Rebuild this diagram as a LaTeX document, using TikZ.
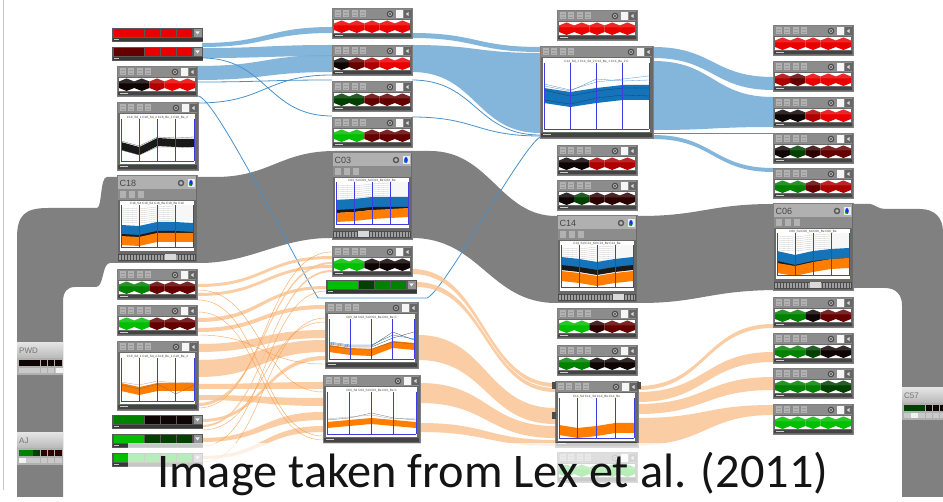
\documentclass[tikz,border=0pt]{standalone}
\usepackage{fontspec}
\setmainfont{Liberation Sans}
\newfontfamily\capfont{Carlito}
\definecolor{bandgray}{RGB}{128,128,128}
\definecolor{framegray}{RGB}{105,105,105}
\definecolor{toolgray}{RGB}{140,140,140}
\definecolor{icongray}{RGB}{178,178,178}
\definecolor{stripdark}{RGB}{68,68,68}
\definecolor{cR}{RGB}{235,0,0}
\definecolor{cMR}{RGB}{175,0,0}
\definecolor{cDR}{RGB}{100,0,0}
\definecolor{cDK}{RGB}{45,0,0}
\definecolor{cK}{RGB}{15,5,5}
\definecolor{cDG}{RGB}{0,65,0}
\definecolor{cMG}{RGB}{0,130,0}
\definecolor{cG}{RGB}{0,190,0}
\definecolor{flowblue}{RGB}{115,172,215}
\definecolor{lineblue}{RGB}{75,145,200}
\definecolor{floworange}{RGB}{250,192,140}
\definecolor{lineorange}{RGB}{245,155,70}
\definecolor{dataBlue}{RGB}{20,115,185}
\definecolor{dataOrange}{RGB}{255,125,0}
\definecolor{axisblue}{RGB}{60,60,225}
\tikzset{
 bflow/.style={fill=flowblue, fill opacity=0.88},
 oflow/.style={fill=floworange, fill opacity=0.78},
 bline/.style={draw=lineblue, line width=0.8},
 oline/.style={draw=lineorange, line width=0.45, draw opacity=0.8},
 hdr/.style={font=\fontsize{3.1}{3.1}\selectfont, inner sep=0, text=black!75},
 frameedge/.style={draw=black!50, line width=0.5},
}
% flow band: x1, ya1, yb1, x2, ya2, yb2
\newcommand{\flow}[7][bflow]{%
 \pgfmathsetmacro\xm{(#2+#5)/2}%
 \fill[#1] (#2,#3) .. controls (\xm,#3) and (\xm,#6) .. (#5,#6) -- (#5,#7) .. controls (\xm,#7) and (\xm,#4) .. (#2,#4) -- cycle;}
\newcommand{\fline}[5][bline]{%
 \pgfmathsetmacro\xm{(#2+#4)/2}%
 \draw[#1] (#2,#3) .. controls (\xm,#3) and (\xm,#5) .. (#4,#5);}
\newcommand{\band}[7]{\fill[#1] (4,#2) -- (4+\dx,#3) -- (4+2*\dx,#4) -- (4+3*\dx,#5) -- (4+4*\dx,#6) -- (4+4*\dx,#6+#7) -- (4+3*\dx,#5+#7) -- (4+2*\dx,#4+#7) -- (4+\dx,#3+#7) -- (4,#2+#7) -- cycle;}
\newcommand{\strand}[6]{\draw[#1] (4,#2) -- (4+\dx,#3) -- (4+2*\dx,#4) -- (4+3*\dx,#5) -- (4+4*\dx,#6);}
\newcommand{\hexcell}[2]{%
 \fill[#2] (#1,15.5) -- ++(7.6,-3) -- ++(7.6,3) -- ++(0,6.5) -- ++(-7.6,3) -- ++(-7.6,-3) -- cycle;
 \fill[white,fill opacity=0.15] (#1,15.5) -- ++(7.6,-3) -- ++(7.6,3) -- ++(0,2) -- ++(-15.2,0) -- cycle;}
\newcommand{\toolicons}[1]{%
 \foreach \ii in {0,1,2,3} {\fill[icongray] (2.5+\ii*8.5,2.5) rectangle (8.5+\ii*8.5,9.5);
   \draw[black!40, line width=0.3] (3.5+\ii*8.5,4.5) -- (7.5+\ii*8.5,4.5) (3.5+\ii*8.5,7.5) -- (7.5+\ii*8.5,7.5);}
 \fill[black!70] (#1-22,6) circle (3.3); \fill[gray!60] (#1-22,6) circle (2); \fill[black!70] (#1-22,6) circle (1.1);
 \fill[white!92!gray] (#1-16.5,2.3) rectangle (#1-9.5,9.7);
 \fill[black!60] (#1-8,2.3) rectangle (#1-1.5,9.7);
 \fill[white!70!gray] (#1-6.2,6) -- (#1-3.5,4) -- (#1-3.5,8) -- cycle;}
\newcommand{\hexbox}[7]{%
 \begin{scope}[shift={(#1,#2)}]
 \fill[framegray] (0,0) rectangle (80,30);
 \fill[toolgray] (1,1) rectangle (79,11);
 \toolicons{80}
 \fill[white] (2,12.5) rectangle (78,25);
 \hexcell{2}{#3}\hexcell{17.2}{#4}\hexcell{32.4}{#5}\hexcell{47.6}{#6}\hexcell{62.8}{#7}
 \fill[stripdark] (1,26) rectangle (79,29.3);
 \fill[gray!40] (3,27.2) rectangle (11,28.2);
 \draw[frameedge] (0,0) rectangle (80,30);
 \end{scope}}
\newcommand{\barbox}[7]{%
 \begin{scope}[shift={(#1,#2)}]
 \fill[black!65] (0,0) rectangle (91,14);
 \foreach \cc [count=\ii from 0] in {#3,#4,#5,#6,#7} {\fill[\cc] (1.5+\ii*15.8,1.5) rectangle (16.5+\ii*15.8,8.8);}
 \fill[black!42] (81.5,1.5) rectangle (89.5,9);
 \fill[white!85!gray] (83.3,3.5) -- (87.7,3.5) -- (85.5,6.5) -- cycle;
 \fill[black!78] (0.5,10) rectangle (90.5,13.5);
 \fill[gray!45] (2,11.2) rectangle (7,12.3);
 \end{scope}}
\newcommand{\plotbox}[6]{%
 \begin{scope}[shift={(#1,#2)}]
 \pgfmathsetmacro\pw{#3}\pgfmathsetmacro\ph{#4}%
 \pgfmathsetmacro\dx{(\pw-8)/4}%
 \fill[framegray] (0,0) rectangle (\pw,\ph);
 \fill[toolgray] (1,1) rectangle (\pw-1,11);
 \toolicons{\pw}
 \fill[white] (3,12) rectangle (\pw-3,\ph-6);
 \node[hdr] (h#1x#2) at (\pw/2,15.2) {#5};
 #6
 \foreach \ii in {0,...,4} {\draw[axisblue, line width=0.6] (4+\ii*\dx,17) -- (4+\ii*\dx,\ph-8.5);}
 \draw[axisblue, line width=1] (4,\ph-8.5) -- (\pw-4,\ph-8.5);
 \fill[stripdark] (1,\ph-5) rectangle (\pw-1,\ph-1);
 \fill[gray!40] (3,\ph-3.6) rectangle (11,\ph-2.6);
 \draw[frameedge] (0,0) rectangle (\pw,\ph);
 \end{scope}}
\newcommand{\clusterbox}[6]{%
 \begin{scope}[shift={(#1,#2)}]
 \def\dx{18}%
 \fill[framegray] (0,0) rectangle (80,87);
 \fill[gray!62] (1,1) rectangle (79,14);
 \fill[toolgray] (1,14) rectangle (79,25);
 \node[anchor=west, font=\fontsize{9}{9}\selectfont, text=black!72, inner sep=0] (t#3) at (2.5,8) {#3};
 \fill[black!65] (64,8) circle (3.3); \fill[gray!55] (64,8) circle (1.9);
 \fill[white!85!gray] (70.5,4) rectangle (77.5,12);
 \fill[blue!80!cyan] (74,8) ellipse (1.8 and 3); \fill[green!60!black] (73,9.5) ellipse (1 and 1.5);
 \foreach \ii in {0,1,2} {\fill[icongray] (3+\ii*9,16.5) rectangle (9+\ii*9,23);}
 \fill[white] (3,26) rectangle (77,76);
 \node[hdr] (h#3) at (40,28.5) {#4};
 \foreach \oo in {0,2,...,14} {\strand{gray!45,line width=0.3}{33+\oo}{34+\oo}{32+\oo}{31+\oo}{31+\oo}}
 #5
 \foreach \ii in {0,...,4} {\draw[axisblue, line width=0.6] (4+\ii*18,30.5) -- (4+\ii*18,73);}
 \draw[axisblue, line width=1] (4,73) -- (76,73);
 \fill[black!70] (1,79) rectangle (79,86);
 \foreach \tk in {2,3.5,...,78} {\draw[gray!75, line width=0.25] (\tk,80) -- (\tk,85);}
 \fill[gray!30] (#6,79.5) rectangle (#6+11,85.5);
 \draw[frameedge] (0,0) rectangle (80,87);
 \end{scope}}
\newcommand{\smallwidget}[9]{%
 \begin{scope}[shift={(#1,#2)}]
 \shade[top color=gray!22, bottom color=gray!55] (0,0) rectangle (46,15);
 \node[anchor=west, font=\fontsize{8}{8}\selectfont, text=black!55, inner sep=0] (w#3) at (2,8) {#3};
 \fill[gray!62] (0,15) rectangle (46,32);
 \foreach \cc [count=\ii from 0] in {#4,#5,#6,#7,#8,#9} {\fill[\cc] (2+\ii*7.2,17) rectangle (8.5+\ii*7.2,23.5); \fill[gray!42] (2+\ii*7.2,25) rectangle (8.5+\ii*7.2,30);}
 \end{scope}}
\begin{document}
\begin{tikzpicture}[x=1pt,y=-1pt]
\useasboundingbox (0,0) rectangle (943,502);
\fill[white] (0,0) rectangle (943,502);
\draw[gray!45, line width=0.8] (3.5,0) -- (3.5,490);
% ---------- gray cluster band ----------
\fill[bandgray] (17,497) -- (17,238) .. controls (17,215) and (25,208) .. (48,208) -- (97,208)
 .. controls (102,208) and (100,177) .. (107,177) -- (215,177) .. controls (270,177) and (280,151) .. (335,151)
 -- (430,151) .. controls (490,151) and (500,216) .. (556,216) -- (640,216) .. controls (700,216) and (710,204) .. (773,204)
 -- (870,204) .. controls (874,204) and (878,209) .. (885,209) -- (920,209) .. controls (935,209) and (943,218) .. (943,232)
 -- (943,497) -- (902,497) -- (902,305) .. controls (902,295) and (896,288) .. (885,288) -- (855,288) -- (780,290)
 .. controls (710,290) and (700,303) .. (640,303) -- (556,303) .. controls (490,303) and (480,238) .. (412,238)
 -- (330,238) .. controls (280,238) and (250,263) .. (200,263) -- (110,263) .. controls (102,263) and (104,287) .. (96,287)
 -- (75,287) .. controls (67,287) and (63,292) .. (63,302) -- (63,497) -- cycle;
% ---------- blue flows ----------
\flow{202}{43}{47}{332}{27}{33}
\flow{202}{48}{58}{332}{45}{56}
\flow{198}{66}{80}{332}{55}{72}
\flow{412}{33}{38}{540}{47}{52}
\flow{412}{45}{72}{540}{53}{133}
\flow{653}{47}{58}{773}{77}{90}
\flow{653}{61}{130}{773}{97}{127}
\flow{653}{135}{139}{773}{168}{172}
\fline{198}{82}{332}{80}
\fline{198}{103}{332}{75}
\fline{202}{58}{332}{116}
\fline{412}{80}{540}{135}
\fline{412}{117}{540}{136}
\fline{653}{133}{773}{133}
\draw[bline] (198,96) .. controls (215,96) and (300,270) .. (318,298) -- (427,298) .. controls (445,290) and (520,150) .. (540,137);
% ---------- orange flows ----------
\flow[oflow]{198}{284}{287}{332}{256}{259}
\flow[oflow]{198}{293}{296}{332}{265}{268}
\flow[oflow]{198}{318}{322}{326}{286}{289}
\flow[oflow]{198}{328}{332}{325}{305}{309}
\flow[oflow]{198}{344}{352}{325}{330}{338}
\flow[oflow]{198}{360}{377}{325}{340}{352}
\flow[oflow]{198}{384}{389}{323}{382}{389}
\flow[oflow]{198}{395}{400}{323}{398}{406}
\flow[oflow]{198}{403}{406}{332}{262}{264}
\flow[oflow]{202}{419}{422}{325}{356}{360}
\flow[oflow]{202}{425}{427}{332}{270}{272}
\flow[oflow]{202}{438}{442}{323}{412}{420}
\flow[oflow]{202}{456}{459}{323}{426}{432}
\fline[oline]{202}{446}{326}{291}
\fline[oline]{202}{462}{325}{318}
\fline[oline]{198}{300}{323}{436}
\fline[oline]{198}{335}{325}{364}
\fline[oline]{198}{408}{332}{252}
\fline[oline]{202}{430}{325}{322}
\fline[oline]{198}{290}{323}{392}
\fline[oline]{198}{312}{323}{440}
\flow[oflow]{412}{269}{274}{555}{383}{387}
\flow[oflow]{416}{282}{287}{555}{388}{392}
\flow[oflow]{418}{335}{360}{555}{408}{424}
\flow[oflow]{420}{383}{403}{555}{426}{438}
\flow[oflow]{420}{423}{432}{555}{440}{446}
\flow[oflow]{638}{386}{390}{773}{324}{328}
\flow[oflow]{638}{392}{402}{773}{352}{362}
\flow[oflow]{638}{404}{414}{773}{377}{390}
\flow[oflow]{638}{418}{445}{773}{405}{415}
% ---------- column 1 ----------
\barbox{112}{28}{cR}{cR}{cR}{cR}{cR}
\barbox{112}{47}{cDR}{cDR}{cR}{cR}{cR}
\hexbox{117}{66}{cK}{cK}{cMR}{cR}{cR}
\plotbox{117}{102}{81}{68}{C18\_Sd\_1 C18\_Sd\_2 C18\_Be\_1 C18\_Be\_2}{%
 \strand{black!60,line width=0.3}{39}{44}{35}{36}{35}
 \band{black!90}{40}{45}{36}{37}{37}{8}
 \strand{black!60,line width=0.3}{48}{53}{45}{45}{46}}
\clusterbox{117}{175}{C18}{C18\_Sd C18\_Sd C18\_Be C18\_Be C18}{%
 \band{dataBlue}{50}{51}{47}{47}{48}{10}
 \band{black!90}{59}{60}{56}{56}{57}{3}
 \band{dataOrange}{61}{62}{58}{58}{58}{9}}{48}
\hexbox{117}{269}{cMG}{cMG}{cDR}{cDR}{cDR}
\hexbox{117}{305}{cG}{cG}{cDR}{cDR}{cDR}
\plotbox{117}{341}{81}{69}{C18\_Sd\_1 C18\_Sd\_2 C18\_Be\_1 C18\_Be\_2}{%
 \strand{gray!70,line width=0.3}{41}{44}{40}{42}{41}
 \band{dataOrange}{42}{46}{42}{42}{42}{8}
 \strand{black!55,line width=0.3}{44}{48}{43}{53}{44}}
\barbox{112}{415}{cMG}{cMG}{cK}{cK}{cK}
\barbox{112}{434}{cG}{cG}{cDG}{cDG}{cDG}
\barbox{112}{453}{cG}{cG}{cG}{cG}{cG}
% ---------- column 2 ----------
\hexbox{332}{8}{cR}{cR}{cR}{cR}{cR}
\hexbox{332}{45}{cK}{cDR}{cMR}{cR}{cR}
\hexbox{332}{81}{cDG}{cDG}{cDR}{cDR}{cDR}
\hexbox{332}{117}{cG}{cG}{cDR}{cDR}{cDR}
\clusterbox{332}{152}{C03}{C03\_Sd C03\_Sd C03\_Be C03\_Be}{%
 \band{dataBlue}{48}{47}{45}{45}{45}{11}
 \band{black!90}{58}{57}{55}{55}{55}{3}
 \band{dataOrange}{61}{60}{58}{57}{56}{9}}{26}
\hexbox{332}{246}{cG}{cG}{cK}{cK}{cK}
\barbox{326}{280}{cG}{cG}{cDG}{cMG}{cMG}
\plotbox{325}{302}{93}{66}{C03\_Sd C03\_Sd C03\_Be C03\_Be C}{%
 \strand{black!70,line width=0.3}{41}{44}{44}{30}{38}
 \strand{dataBlue,line width=0.3}{40}{43}{43}{33}{37}
 \strand{black!70,line width=0.3}{42}{45}{45}{36}{30}
 \band{dataOrange}{43}{46}{47}{39}{41}{7}
 \strand{black!60,line width=0.3}{44}{47}{47}{40}{42}}
\plotbox{323}{375}{97}{68}{C03\_Sd C03\_Sd C03\_Be C03\_Be C}{%
 \strand{black!55,line width=0.3}{45}{43}{38}{43}{45}
 \strand{gray!70,line width=0.3}{44}{42}{40}{44}{43}
 \band{dataOrange}{47}{45}{43}{45}{47}{6}}
% ---------- column 3 ----------
\hexbox{557}{10}{cR}{cR}{cR}{cR}{cR}
\plotbox{540}{46}{113}{92}{C14\_Sd\_1 C14\_Sd\_2 C14\_Be\_1 C14\_Be\_2 C}{%
 \strand{lineblue,line width=0.3}{38}{44}{36}{33}{30}
 \strand{lineblue,line width=0.3}{40}{45}{33}{35}{34}
 \band{dataBlue}{42}{46}{42}{39}{39}{15}
 \strand{dataBlue!60!black,line width=0.3}{44}{50}{45}{42}{42}
 \strand{dataBlue!60!black,line width=0.3}{54}{58}{52}{49}{50}}
\hexbox{557}{145}{cK}{cK}{cMR}{cMR}{cMR}
\hexbox{557}{180}{cK}{cDG}{cDK}{cDK}{cDK}
\clusterbox{557}{215}{C14}{C14\_Sd C14\_Sd C14\_Be C14\_Be}{%
 \band{dataBlue}{42}{44}{47}{44}{42}{9}
 \band{black!90}{50}{52}{55}{52}{50}{5}
 \band{dataOrange}{56}{58}{61}{58}{56}{10}}{56}
\hexbox{557}{308}{cG}{cG}{cDK}{cDR}{cDR}
\hexbox{557}{345}{cMG}{cMG}{cK}{cK}{cK}
\plotbox{555}{381}{83}{66}{C14\_Sd C14\_Sd C14\_Be C14\_Be}{%
 \band{dataOrange}{44}{47}{45}{42}{42}{10}}
\fill[black!70] (552,382) rectangle (556,389);
\fill[black!70] (552,412) rectangle (556,419);
\fill[black!70] (637,382) rectangle (641,389);
\hexbox{557}{452}{cG}{cG}{cG}{cG}{cG}
% ---------- column 4 ----------
\hexbox{773}{25}{cR}{cR}{cR}{cR}{cR}
\hexbox{773}{61}{cMR}{cDR}{cR}{cR}{cR}
\hexbox{773}{97}{cK}{cK}{cMR}{cR}{cR}
\hexbox{773}{133}{cK}{cDG}{cDK}{cDR}{cDR}
\hexbox{773}{168}{cMG}{cMG}{cDR}{cMR}{cMR}
\clusterbox{773}{203}{C06}{C06\_Sd C06\_Sd C06\_Be C06\_Be}{%
 \band{dataBlue}{48}{52}{48}{46}{45}{11}
 \band{black!90}{58}{62}{58}{56}{55}{3}
 \band{dataOrange}{60}{63}{59}{56}{55}{10}}{37}
\hexbox{773}{297}{cMG}{cMG}{cK}{cDR}{cDR}
\hexbox{773}{333}{cMG}{cMG}{cDG}{cK}{cK}
\hexbox{773}{368}{cMG}{cMG}{cMG}{cDG}{cDG}
\hexbox{773}{404}{cG}{cG}{cG}{cG}{cG}
% ---------- small widgets in the band ----------
\smallwidget{17}{343}{PWD}{cK}{cK}{cK}{cK}{cK}{cK}
\fill[white!90!gray] (56.2,368) rectangle (62.5,373);
\smallwidget{17}{433}{AJ}{cMG}{cMG}{cDG}{cDK}{cDK}{cDK}
\fill[white!90!gray] (19,458) rectangle (25.5,463);
\smallwidget{902}{388}{C57}{cDG}{cDG}{cDG}{cK}{cK}{cK}
\fill[white!90!gray] (911.2,413) rectangle (917.7,418);
% ---------- caption ----------
\fill[white, fill opacity=0.72] (128,443) rectangle (900,502);
\node[anchor=base west, inner sep=0, font=\capfont\fontsize{48.3}{50}\selectfont, text=black!92] (caption) at (157,488) {Image taken from Lex et al. (2011)};
\end{tikzpicture}
\end{document}
